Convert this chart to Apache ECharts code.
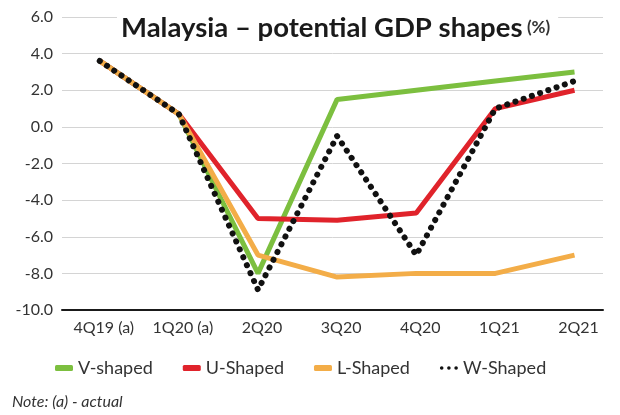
<!DOCTYPE html>
<html><head><meta charset="utf-8">
<script src="https://cdn.jsdelivr.net/npm/echarts@6/dist/echarts.min.js"></script>
<style>html,body{margin:0;padding:0;background:#fff}#c{width:620px;height:415px}</style>
</head><body><div id="c"></div>
<script>
const categories = ['4Q19 (a)', '1Q20 (a)', '2Q20', '3Q20', '4Q20', '1Q21', '2Q21'];
const vShaped = [3.6, 0.7, -8.0, 1.5, 2.0, 2.5, 3.0];
const uShaped = [3.6, 0.7, -5.0, -5.1, -4.7, 1.0, 2.0];
const lShaped = [3.6, 0.7, -7.0, -8.2, -8.0, -8.0, -7.0];
const wShaped = [3.6, 0.7, -8.9, -0.5, -7.0, 1.0, 2.5];
const yMin = -10, yMax = 6, yStep = 2;

const FONT = 'Lato';
const cGreen = '#7cbf3f', cRed = '#e0232b', cOrange = '#f3ad48', cBlack = '#111';
const idx = categories.map((c, i) => i);
const pairs = arr => arr.map((v, i) => [i, v]);

const chart = echarts.init(document.getElementById('c'), null, {renderer: 'canvas'});
chart.setOption({
  backgroundColor: '#fff',
  animation: false,
  textStyle: {fontFamily: FONT},
  title: {
    left: 117, top: 8, z: 10,
    backgroundColor: '#fff',
    padding: [2, 8, 2, 4],
    text: '{b|Malaysia – potential GDP shapes} {s|(%)}',
    textStyle: {
      rich: {
        b: {fontFamily: FONT, fontWeight: 'bold', fontSize: 27.5, color: '#1a1a1a', lineHeight: 36},
        s: {fontFamily: FONT, fontSize: 17, color: '#333', lineHeight: 36}
      }
    }
  },
  grid: {left: 62, right: 17, top: 17, bottom: 105},
  xAxis: {
    type: 'value', min: -0.477, max: 6.36,
    axisLine: {show: true, onZero: false, lineStyle: {color: '#1a1a1a', width: 2}},
    axisTick: {show: false},
    splitLine: {show: false},
    axisLabel: {customValues: idx, formatter: v => categories[Math.round(v)] || '',
      fontFamily: FONT, fontSize: 16, color: '#333', margin: 10, padding: [0, 0, 0, 8],
      showMinLabel: true, showMaxLabel: true}
  },
  yAxis: {
    type: 'value', min: yMin, max: yMax, interval: yStep,
    axisLine: {show: false}, axisTick: {show: false},
    axisLabel: {fontFamily: FONT, fontSize: 16, color: '#333', margin: 9, formatter: v => v.toFixed(1)},
    splitLine: {show: true, lineStyle: {color: '#d4d4d4', width: 1, type: 'solid'}}
  },
  legend: {
    left: 50, top: 354,
    itemGap: 30,
    itemWidth: 18, itemHeight: 6,
    textStyle: {fontFamily: FONT, fontSize: 18, color: '#333'},
    data: [
      {name: 'V-shaped', icon: 'roundRect', itemStyle: {color: cGreen}},
      {name: 'U-Shaped', icon: 'roundRect', itemStyle: {color: cRed}},
      {name: 'L-Shaped', icon: 'roundRect', itemStyle: {color: cOrange}},
      {name: 'W-Shaped', itemWidth: 28, itemHeight: 6,
       icon: 'path://M0,2a2,2 0 1,0 4,0a2,2 0 1,0 -4,0M8,2a2,2 0 1,0 4,0a2,2 0 1,0 -4,0M16,2a2,2 0 1,0 4,0a2,2 0 1,0 -4,0',
       itemStyle: {color: cBlack}}
    ]
  },
  graphic: [{
    type: 'text', left: 12, top: 394,
    style: {text: 'Note: (a) - actual', fontFamily: FONT, fontStyle: 'italic', fontSize: 16, fill: '#333'}
  }],
  series: [
    {name: 'V-shaped', type: 'line', data: pairs(vShaped), showSymbol: false,
     lineStyle: {color: cGreen, width: 5}, itemStyle: {color: cGreen}, z: 2},
    {name: 'U-Shaped', type: 'line', data: pairs(uShaped), showSymbol: false,
     lineStyle: {color: cRed, width: 5}, itemStyle: {color: cRed}, z: 3},
    {name: 'L-Shaped', type: 'line', data: pairs(lShaped), showSymbol: false,
     lineStyle: {color: cOrange, width: 5}, itemStyle: {color: cOrange}, z: 4},
    {name: 'W-Shaped', type: 'line', data: pairs(wShaped), showSymbol: false,
     lineStyle: {color: cBlack, width: 6, type: [0.1, 8.6], cap: 'round'}, itemStyle: {color: cBlack}, z: 5}
  ]
});
</script></body></html>
